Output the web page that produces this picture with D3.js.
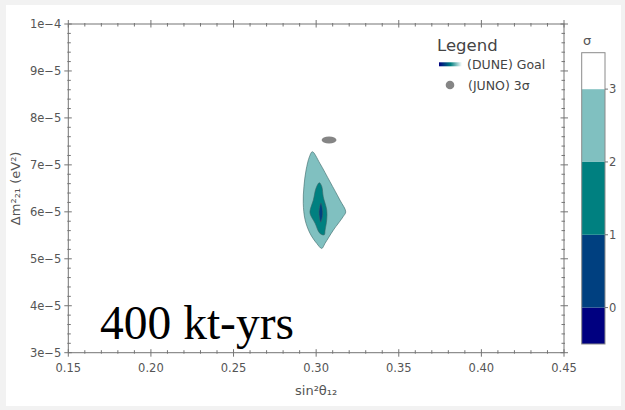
<!DOCTYPE html>
<html>
<head>
<meta charset="utf-8">
<script src="https://cdn.jsdelivr.net/npm/d3@7"></script>
<style>
  html, body { margin: 0; padding: 0; background: #f2f2f2; }
  svg { display: block; }
</style>
</head>
<body>
<svg id="chart" width="625" height="410"></svg>
<script>
// Axis ranges and tick labels
const xDomain = [0.15, 0.45];
const yDomain = [3e-5, 1e-4];
const xTicks = [0.15, 0.20, 0.25, 0.30, 0.35, 0.40, 0.45];
const xTickLabels = ["0.15", "0.20", "0.25", "0.30", "0.35", "0.40", "0.45"];
const yTicks = [3e-5, 4e-5, 5e-5, 6e-5, 7e-5, 8e-5, 9e-5, 1e-4];
const yTickLabels = ["3e\u22125", "4e\u22125", "5e\u22125", "6e\u22125", "7e\u22125", "8e\u22125", "9e\u22125", "1e\u22124"];

// DUNE goal confidence contours: [sin²θ12, Δm²21]
const contour3Sigma = [
  [0.2977, 7.28e-5], [0.3023, 7.03e-5], [0.3084, 6.64e-5], [0.3144, 6.25e-5],
  [0.3179, 6.00e-5], [0.3164, 5.90e-5], [0.3104, 5.61e-5], [0.3054, 5.33e-5],
  [0.3034, 5.22e-5], [0.3003, 5.33e-5], [0.2963, 5.54e-5], [0.2933, 5.83e-5],
  [0.2922, 6.18e-5], [0.2926, 6.54e-5], [0.2939, 6.89e-5], [0.2959, 7.17e-5]
];
const contour2Sigma = [
  [0.3019, 6.62e-5], [0.3034, 6.54e-5], [0.3043, 6.32e-5], [0.3064, 6.04e-5],
  [0.3064, 5.83e-5], [0.3054, 5.61e-5], [0.3049, 5.51e-5], [0.3023, 5.54e-5],
  [0.2993, 5.76e-5], [0.2963, 5.97e-5], [0.2967, 6.08e-5], [0.2983, 6.25e-5],
  [0.2999, 6.50e-5]
];
const contour1Sigma = [
  [0.3029, 6.19e-5], [0.3038, 6.06e-5], [0.3040, 5.95e-5], [0.3035, 5.85e-5],
  [0.3028, 5.78e-5], [0.3020, 5.87e-5], [0.3017, 6.00e-5], [0.3022, 6.12e-5]
];

// JUNO 3σ region: centre and half-widths
const junoCenter = [0.3078, 7.53e-5];
const junoHalfWidth = [0.0045, 0.075e-5];

// σ colour scale
const sigmaBounds = [-0.5, 0, 1, 2, 3, 3.5];
const sigmaColors = ["#000080", "#004080", "#008080", "#80c0c0", "#ffffff"];
const sigmaTicks = [0, 1, 2, 3];

const svg = d3.select("#chart");
const font = "DejaVu Sans, sans-serif";

// card background
svg.append("rect").attr("x", 6).attr("y", 5).attr("width", 615).attr("height", 401).attr("fill", "#ffffff");

const plot = { left: 68.3, right: 564, top: 24, bottom: 352.7 };
const x = d3.scaleLinear().domain(xDomain).range([plot.left, plot.right]);
const y = d3.scaleLinear().domain(yDomain).range([plot.bottom, plot.top]);

// contours, outermost first
const line = d3.line().x(d => x(d[0])).y(d => y(d[1])).curve(d3.curveCatmullRomClosed.alpha(0.5));
const contours = [
  { pts: contour3Sigma, fill: sigmaColors[3] },
  { pts: contour2Sigma, fill: sigmaColors[2] },
  { pts: contour1Sigma, fill: sigmaColors[1] }
];
svg.append("g").selectAll("path").data(contours).join("path")
  .attr("d", d => line(d.pts))
  .attr("fill", d => d.fill)
  .attr("stroke", "#3a6566")
  .attr("stroke-width", 0.7)
  .attr("stroke-opacity", 0.85);

// JUNO ellipse
svg.append("ellipse")
  .attr("cx", x(junoCenter[0]))
  .attr("cy", y(junoCenter[1]))
  .attr("rx", x(junoCenter[0] + junoHalfWidth[0]) - x(junoCenter[0]))
  .attr("ry", y(junoCenter[1] - junoHalfWidth[1]) - y(junoCenter[1]))
  .attr("fill", "#858585");

// frame and ticks
const axisColor = "#747474";
svg.append("rect")
  .attr("x", plot.left).attr("y", plot.top)
  .attr("width", plot.right - plot.left).attr("height", plot.bottom - plot.top)
  .attr("fill", "none").attr("stroke", axisColor).attr("stroke-width", 1);

const xMinor = d3.range(0, 31).map(i => xDomain[0] + i * 0.01).filter(v => !xTicks.some(t => Math.abs(t - v) < 1e-9));
const yMinor = d3.range(0, 36).map(i => yDomain[0] + i * 2e-6).filter(v => !yTicks.some(t => Math.abs(t - v) < 1e-12));

const ticks = svg.append("g").attr("stroke", axisColor).attr("stroke-width", 1);
xTicks.forEach(v => {
  ticks.append("line").attr("x1", x(v)).attr("x2", x(v)).attr("y1", plot.bottom - 3.5).attr("y2", plot.bottom + 4);
  ticks.append("line").attr("x1", x(v)).attr("x2", x(v)).attr("y1", plot.top - 4).attr("y2", plot.top + 3.5);
});
xMinor.forEach(v => {
  ticks.append("line").attr("x1", x(v)).attr("x2", x(v)).attr("y1", plot.bottom - 2.5).attr("y2", plot.bottom + 1);
  ticks.append("line").attr("x1", x(v)).attr("x2", x(v)).attr("y1", plot.top - 1).attr("y2", plot.top + 2.5);
});
yTicks.forEach(v => {
  ticks.append("line").attr("y1", y(v)).attr("y2", y(v)).attr("x1", plot.left - 4).attr("x2", plot.left + 3.5);
  ticks.append("line").attr("y1", y(v)).attr("y2", y(v)).attr("x1", plot.right - 3.5).attr("x2", plot.right + 4);
});
yMinor.forEach(v => {
  ticks.append("line").attr("y1", y(v)).attr("y2", y(v)).attr("x1", plot.left - 1).attr("x2", plot.left + 2.5);
  ticks.append("line").attr("y1", y(v)).attr("y2", y(v)).attr("x1", plot.right - 2.5).attr("x2", plot.right + 1);
});

// tick labels
const labelColor = "#555555";
svg.append("g").selectAll("text").data(xTicks).join("text")
  .attr("x", d => x(d)).attr("y", plot.bottom + 19)
  .attr("text-anchor", "middle").attr("font-family", font).attr("font-size", 11.5)
  .attr("fill", labelColor).text((d, i) => xTickLabels[i]);
svg.append("g").selectAll("text").data(yTicks).join("text")
  .attr("x", plot.left - 7).attr("y", d => y(d)).attr("dy", "0.36em")
  .attr("text-anchor", "end").attr("font-family", font).attr("font-size", 11.5)
  .attr("fill", labelColor).text((d, i) => yTickLabels[i]);

// axis titles
svg.append("text")
  .attr("x", (plot.left + plot.right) / 2).attr("y", 395)
  .attr("text-anchor", "middle").attr("font-family", font).attr("font-size", 13)
  .attr("fill", labelColor).text("sin\u00b2\u03b8\u2081\u2082");
svg.append("text")
  .attr("transform", `translate(20,${(plot.top + plot.bottom) / 2}) rotate(-90)`)
  .attr("text-anchor", "middle").attr("font-family", font).attr("font-size", 13)
  .attr("fill", labelColor).text("\u0394m\u00b2\u2082\u2081 (eV\u00b2)");

// exposure annotation
svg.append("text")
  .attr("x", 100).attr("y", 339)
  .attr("font-family", "Liberation Serif, Times New Roman, serif").attr("font-size", 47.5)
  .attr("fill", "#000000").text("400 kt-yrs");

// legend
const defs = svg.append("defs");
const grad = defs.append("linearGradient").attr("id", "duneGrad");
sigmaColors.forEach((c, i) => grad.append("stop").attr("offset", i / (sigmaColors.length - 1)).attr("stop-color", c));
const legend = svg.append("g");
legend.append("text").attr("x", 437).attr("y", 51)
  .attr("font-family", font).attr("font-size", 16.5).attr("fill", "#444444").text("Legend");
legend.append("rect").attr("x", 439).attr("y", 62.3).attr("width", 23).attr("height", 4)
  .attr("fill", "url(#duneGrad)");
legend.append("text").attr("x", 467).attr("y", 69)
  .attr("font-family", font).attr("font-size", 12.5).attr("fill", "#444444").text("(DUNE) Goal");
legend.append("circle").attr("cx", 450).attr("cy", 85).attr("r", 4.3).attr("fill", "#858585");
legend.append("text").attr("x", 468).attr("y", 89.5)
  .attr("font-family", font).attr("font-size", 12.5).attr("fill", "#444444").text("(JUNO) 3\u03c3");

// colour bar
const cb = { left: 581.7, right: 605, top: 52.7, bottom: 344 };
const cy = d3.scaleLinear().domain([sigmaBounds[0], sigmaBounds[sigmaBounds.length - 1]]).range([cb.bottom, cb.top]);
const bands = sigmaColors.map((c, i) => ({ lo: sigmaBounds[i], hi: sigmaBounds[i + 1], c }));
svg.append("g").selectAll("rect").data(bands).join("rect")
  .attr("x", cb.left).attr("width", cb.right - cb.left)
  .attr("y", d => cy(d.hi)).attr("height", d => cy(d.lo) - cy(d.hi))
  .attr("fill", d => d.c);
svg.append("rect").attr("x", cb.left).attr("y", cb.top)
  .attr("width", cb.right - cb.left).attr("height", cb.bottom - cb.top)
  .attr("fill", "none").attr("stroke", "#8a8a8a").attr("stroke-width", 1);
const cbAxis = svg.append("g");
sigmaTicks.forEach(v => {
  cbAxis.append("line").attr("x1", cb.right).attr("x2", cb.right + 3)
    .attr("y1", cy(v)).attr("y2", cy(v)).attr("stroke", axisColor);
  cbAxis.append("text").attr("x", cb.right + 4).attr("y", cy(v)).attr("dy", "0.36em")
    .attr("font-family", font).attr("font-size", 11.5).attr("fill", labelColor).text(v);
});
svg.append("text").attr("x", 587).attr("y", 45).attr("text-anchor", "middle")
  .attr("font-family", font).attr("font-size", 13).attr("fill", labelColor).text("\u03c3");
</script>
</body>
</html>
